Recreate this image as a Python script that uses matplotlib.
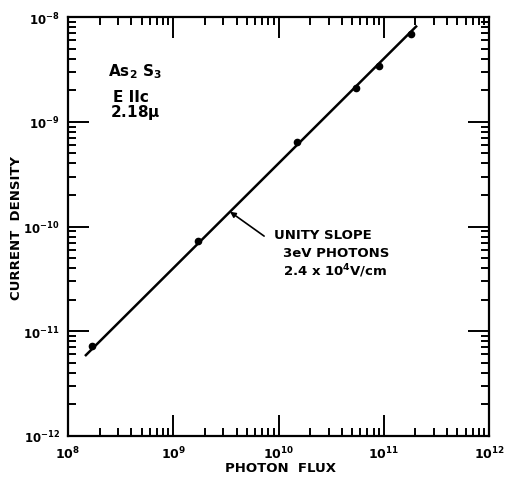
import matplotlib
matplotlib.use("Agg")
import matplotlib.pyplot as plt
from matplotlib.ticker import FixedLocator, FixedFormatter, LogLocator, NullFormatter
import numpy as np

# photon flux vs current density, As2S3
flux = [1.7e8, 1.72e9, 1.5e10, 5.45e10, 9.0e10, 1.82e11]
current = [7.2e-12, 7.3e-11, 6.4e-10, 2.1e-9, 3.4e-9, 6.9e-9]

# unity-slope fit line
fit_flux = [1.45e8, 2.07e11]
fit_coef = 4.0e-20

x_ticks = [1e8, 1e9, 1e10, 1e11, 1e12]
x_labels = [r'$\mathbf{10^{8}}$', r'$\mathbf{10^{9}}$', r'$\mathbf{10^{10}}$',
            r'$\mathbf{10^{11}}$', r'$\mathbf{10^{12}}$']
y_ticks = [1e-12, 1e-11, 1e-10, 1e-9, 1e-8]
y_labels = [r'$\mathbf{10^{-12}}$', r'$\mathbf{10^{-11}}$', r'$\mathbf{10^{-10}}$',
            r'$\mathbf{10^{-9}}$', r'$\mathbf{10^{-8}}$']

plt.rcParams['font.family'] = ['DejaVu Sans']
plt.rcParams['mathtext.fontset'] = 'dejavusans'

fig = plt.figure(figsize=(5.06, 4.81), dpi=100)
ax = fig.add_axes([0.1344, 0.0915, 0.832, 0.871])

ax.set_xscale('log')
ax.set_yscale('log')
ax.set_xlim(1e8, 1e12)
ax.set_ylim(1e-12, 1e-8)

fx = np.array(fit_flux)
ax.plot(fx, fit_coef * fx, color='black', lw=1.8, solid_capstyle='butt')
ax.plot(flux, current, 'o', color='black', ms=4.5)

for s in ax.spines.values():
    s.set_linewidth(1.6)

ax.xaxis.set_major_locator(FixedLocator(x_ticks))
ax.xaxis.set_major_formatter(FixedFormatter(x_labels))
ax.yaxis.set_major_locator(FixedLocator(y_ticks))
ax.yaxis.set_major_formatter(FixedFormatter(y_labels))
ax.xaxis.set_minor_locator(LogLocator(base=10, subs=np.arange(2, 10)))
ax.yaxis.set_minor_locator(LogLocator(base=10, subs=np.arange(2, 10)))
ax.xaxis.set_minor_formatter(NullFormatter())
ax.yaxis.set_minor_formatter(NullFormatter())

ax.tick_params(which='both', direction='in', top=True, right=True,
               width=1.4, labelsize=9)
ax.tick_params(axis='y', labelsize=8.5)
ax.tick_params(which='major', length=15, pad=6)
ax.tick_params(which='minor', length=6)

ax.set_xlabel('PHOTON  FLUX', fontsize=9.5, fontweight='bold')
ax.set_ylabel('CURRENT  DENSITY', fontsize=9.5, fontweight='bold')
ax.xaxis.set_label_coords(0.504, -0.06)
ax.yaxis.set_label_coords(-0.108, 0.5)

# sample / polarisation / wavelength block
ax.text(4.3e8, 3.05e-9, r'As$_\mathbf{2}$ S$_\mathbf{3}$', fontsize=11,
        fontweight='bold', ha='center', va='center')
ax.text(4.0e8, 1.76e-9, 'E IIc', fontsize=11, fontweight='bold',
        ha='center', va='center')
ax.text(4.3e8, 1.24e-9, r'2.18$\mathbf{\mu}$', fontsize=11,
        fontweight='bold', ha='center', va='center')

ax.annotate('', xy=(3.46e9, fit_coef * 3.46e9), xytext=(7.3e9, 8.1e-11),
            arrowprops=dict(arrowstyle='-|>', color='black', lw=1.2,
                            mutation_scale=8, shrinkA=0, shrinkB=0))
ax.text(9.06e9, 8.3e-11, 'UNITY SLOPE', fontsize=9.5, fontweight='bold',
        ha='left', va='center')
ax.text(1.1e10, 5.6e-11, '3eV PHOTONS', fontsize=9.5, fontweight='bold',
        ha='left', va='center')
ax.text(1.1e10, 3.8e-11, r'2.4 x 10$\mathbf{^4}$V/cm', fontsize=9.5,
        fontweight='bold', ha='left', va='center')

fig.savefig('out.png', dpi=100)
